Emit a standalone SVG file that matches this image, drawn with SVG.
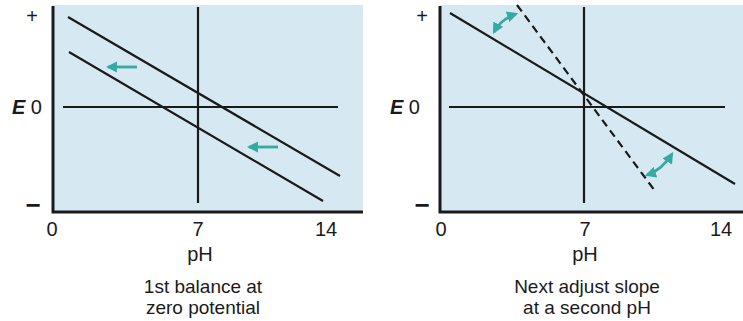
<svg xmlns="http://www.w3.org/2000/svg" width="743" height="321" viewBox="0 0 743 321">
<defs>
<style>
.bg{fill:#d6e8f2;stroke:none}
.axis{stroke:#1a1a1a;stroke-width:3;fill:none}
.ln{stroke:#1a1a1a;stroke-width:2.2;fill:none}
.dash{stroke:#1a1a1a;stroke-width:2.2;fill:none;stroke-dasharray:8 5}
.teal{stroke:#35aaa3;stroke-width:2.8;fill:none}
.t{font-family:"Liberation Sans",Arial,sans-serif;font-size:20px;fill:#1a1a1a;text-anchor:middle}
.c{font-family:"Liberation Sans",Arial,sans-serif;font-size:19px;fill:#1a1a1a;text-anchor:middle}
.e{font-family:"Liberation Sans",Arial,sans-serif;font-size:20px;fill:#1a1a1a;text-anchor:end}
.m{font-family:"Liberation Sans",Arial,sans-serif;font-size:26px;fill:#1a1a1a;text-anchor:middle;font-weight:bold}
</style>
<marker id="ah" viewBox="0 0 10 10" refX="8" refY="5" markerWidth="4" markerHeight="4" orient="auto-start-reverse" markerUnits="strokeWidth">
<path d="M0,0 L10,5 L0,10 Z" fill="#35aaa3"/>
</marker>
</defs>

<g id="panel-left">
<rect class="bg" x="53" y="5" width="310" height="206"/>
<path class="axis" d="M53,6 L53,212 L363,212"/>
<text class="t" x="32" y="23">+</text>
<text class="e" x="42" y="114"><tspan font-style="italic" font-weight="bold">E</tspan> 0</text>
<text class="m" x="33" y="214">−</text>
<text class="t" x="52" y="236">0</text>
<text class="t" x="198" y="236">7</text>
<text class="t" x="326" y="236">14</text>
<text class="t" x="200" y="261">pH</text>
<text class="c" x="203" y="293">1st balance at</text>
<text class="c" x="203" y="314">zero potential</text>
</g>

<g id="panel-right">
<rect class="bg" x="440" y="5" width="303" height="206"/>
<path class="axis" d="M440,6 L440,212 L743,212"/>
<text class="t" x="422" y="23">+</text>
<text class="e" x="420" y="114"><tspan font-style="italic" font-weight="bold">E</tspan> 0</text>
<text class="m" x="422" y="214">−</text>
<text class="t" x="441" y="236">0</text>
<text class="t" x="585" y="236">7</text>
<text class="t" x="721" y="236">14</text>
<text class="t" x="585" y="261">pH</text>
<text class="c" x="587" y="293">Next adjust slope</text>
<text class="c" x="587" y="314">at a second pH</text>
</g>

<g id="connectors">
<line class="ln" x1="198" y1="7" x2="198" y2="203"/>
<line class="ln" x1="63" y1="107" x2="338" y2="107"/>
<line class="ln" x1="68" y1="17" x2="340" y2="176"/>
<line class="ln" x1="69" y1="52" x2="323" y2="201"/>
<line class="teal" x1="137" y1="67" x2="108" y2="67" marker-end="url(#ah)"/>
<line class="teal" x1="278" y1="147" x2="249" y2="147" marker-end="url(#ah)"/>

<line class="ln" x1="584" y1="7" x2="584" y2="203"/>
<line class="ln" x1="449" y1="107" x2="725" y2="107"/>
<line class="ln" x1="450" y1="13" x2="735" y2="184"/>
<line class="dash" x1="517" y1="5" x2="655" y2="191"/>
<path class="teal" d="M494,32 Q501,19 516,14" marker-start="url(#ah)" marker-end="url(#ah)"/>
<path class="teal" d="M647,175 Q662,170 672,154" marker-start="url(#ah)" marker-end="url(#ah)"/>
</g>
</svg>
